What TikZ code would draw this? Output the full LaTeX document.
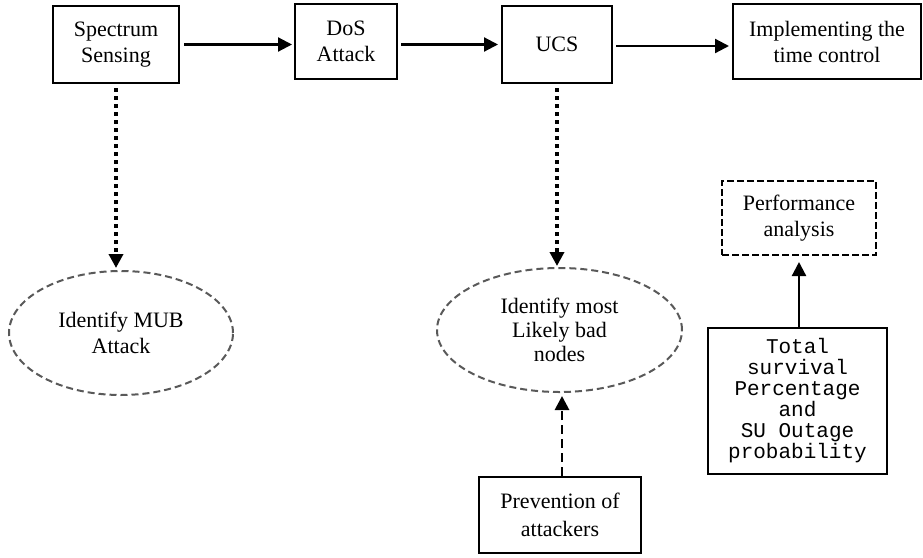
\documentclass[tikz,border=0pt]{standalone}
\usepackage{fontspec}
\setmainfont{Liberation Serif}
\newfontfamily\monofam{Liberation Mono}
\usetikzlibrary{arrows.meta,shapes.geometric}
\begin{document}
\begin{tikzpicture}[x=1pt,y=-1pt,
  every node/.style={font=\fontsize{22}{26}\selectfont, align=center, inner sep=0pt},
  boxnode/.style={draw, line width=2pt},
  dashbox/.style={draw, line width=2pt, dash pattern=on 7pt off 3pt},
  ellnode/.style={ellipse, draw=black!65, line width=2pt, dash pattern=on 7pt off 4pt},
  tip/.style={-{Triangle[length=14pt,width=14pt]}},
  arr/.style={line width=2.2pt, tip},
  dotarr/.style={line width=4pt, dash pattern=on 4pt off 4pt, tip},
  dasharr/.style={line width=2.8pt, dash pattern=on 9pt off 5pt, tip}
]
\useasboundingbox (0,0) rectangle (923,557);
\node[boxnode, minimum width=126, minimum height=77] (ss) at (116,44.5) {Spectrum\\Sensing};
\node[boxnode, minimum width=102, minimum height=75] (dos) at (346,41.5) {DoS\\Attack};
\node[boxnode, minimum width=110, minimum height=77] (ucs) at (557,44.5) {UCS};
\node[boxnode, minimum width=188, minimum height=75] (impl) at (827,41.5) {Implementing the\\time control};
\node[ellnode, minimum width=224, minimum height=124] (mub) at (121,333) {Identify MUB\\Attack};
\node[ellnode, minimum width=245, minimum height=124, font=\fontsize{22}{24}\selectfont] (likely) at (559.5,330) {Identify most\\Likely bad\\nodes};
\node[boxnode, minimum width=162, minimum height=76, font=\fontsize{22}{28}\selectfont] (prev) at (560,515) {Prevention of\\attackers};
\node[boxnode, minimum width=179, minimum height=146, font=\monofam\fontsize{21}{21}\selectfont] (total) at (797.5,401) {Total\\survival\\Percentage\\and\\SU Outage\\probability};
\node[dashbox, minimum width=154, minimum height=74] (perf) at (799,218) {Performance\\analysis};

\draw[arr, shorten <=4pt, shorten >=2pt] (ss.east) -- (ss.east -| dos.west);
\draw[arr, shorten <=3pt, shorten >=3pt] (ss.east -| dos.east) -- (ss.east -| ucs.west);
\draw[arr, shorten <=3pt, shorten >=3pt] ([yshift=-1.5pt]ucs.east) -- ([yshift=-1.5pt]ucs.east -| impl.west);
\draw[dotarr, shorten <=4pt, shorten >=2pt] (ss.south) -- (ss.south |- mub.north);
\draw[dotarr, shorten <=4pt, shorten >=1pt] (ucs.south) -- (ucs.south |- likely.north);
\draw[dasharr, shorten >=3pt] ([xshift=2pt]prev.north) -- ([xshift=2pt]prev.north |- likely.south);
\draw[arr, shorten >=6pt] ([xshift=1.5pt]total.north) -- ([xshift=1.5pt]total.north |- perf.south);
\end{tikzpicture}
\end{document}
